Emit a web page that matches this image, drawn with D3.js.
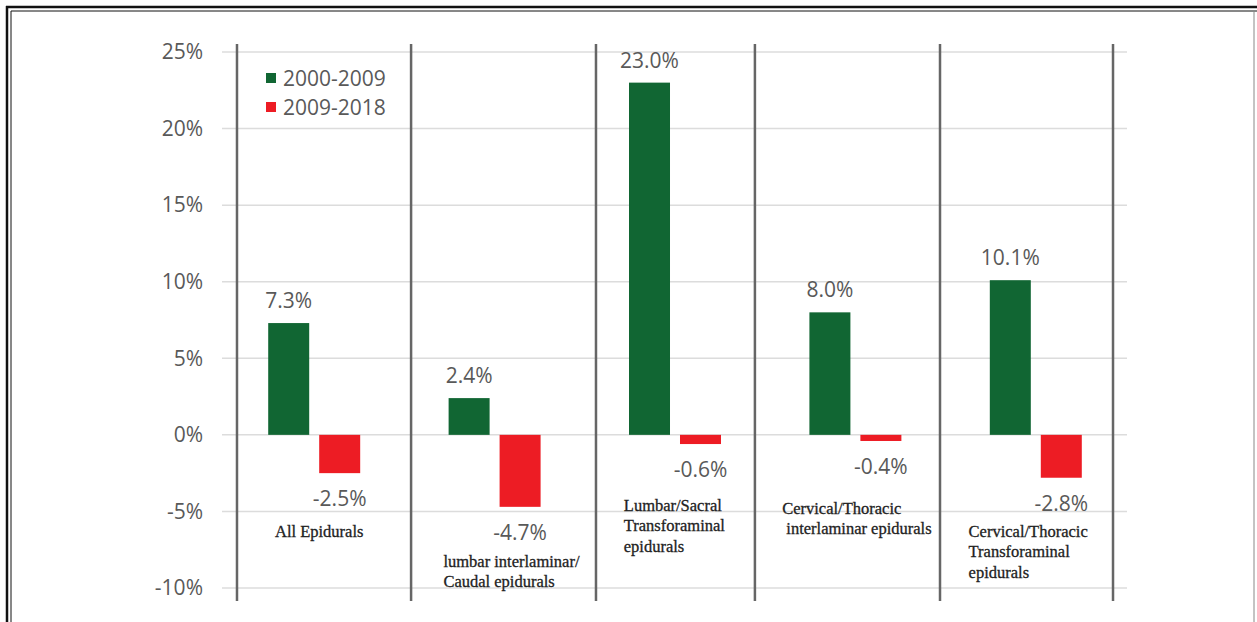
<!DOCTYPE html>
<html>
<head>
<meta charset="utf-8">
<script src="https://cdn.jsdelivr.net/npm/d3@7/dist/d3.min.js"></script>
<style>
  html, body { margin: 0; padding: 0; background: #fff; }
  svg { display: block; }
</style>
</head>
<body>
<svg id="chart" width="1257" height="622"></svg>
<script>
// ---------- data ----------
const categories = [
  "All Epidurals",
  "lumbar interlaminar/ Caudal epidurals",
  "Lumbar/Sacral Transforaminal epidurals",
  "Cervical/Thoracic interlaminar epidurals",
  "Cervical/Thoracic Transforaminal epidurals"
];
const categoryLines = [
  ["All Epidurals"],
  ["lumbar interlaminar/", "Caudal epidurals"],
  ["Lumbar/Sacral", "Transforaminal", "epidurals"],
  ["Cervical/Thoracic", " interlaminar epidurals"],
  ["Cervical/Thoracic", "Transforaminal", "epidurals"]
];
const seriesNames = ["2000-2009", "2009-2018"];
const values2000_2009 = [7.3, 2.4, 23.0, 8.0, 10.1];
const values2009_2018 = [-2.5, -4.7, -0.6, -0.4, -2.8];
const yTicks = [-10, -5, 0, 5, 10, 15, 20, 25];

// ---------- layout ----------
const W = 1257, H = 622;
const plot = { left: 224, right: 1126, top: 52, bottom: 588 };
const colors = ["#116633", "#ed1c24"];
const textGray = "#595959";
const sansFont = "'Open Sans', 'Liberation Sans', sans-serif";
const serifFont = "'Liberation Serif', 'Times New Roman', serif";
// label box anchors: x offset inside band (px), first line y in data units
const catLabelLayout = [
  { dx: 51, y: -6.3, indent: [0] },
  { dx: 39, y: -8.25, indent: [0, 0] },
  { dx: 39, y: -4.6, indent: [0, 0, 0] },
  { dx: 17, y: -4.8, indent: [0, 0] },
  { dx: 23, y: -6.3, indent: [0, 0, 0] }
];
// separator lines in category-index units (hand placed in the original)
const separatorsIdx = [0.072, 1.037, 2.062, 2.943, 3.969, 4.928];

const svg = d3.select("#chart");

// frame
svg.append("rect").attr("x", 0).attr("y", 0).attr("width", W).attr("height", H).attr("fill", "#fff");
svg.append("line").attr("x1", 6).attr("x2", W).attr("y1", 7).attr("y2", 7).attr("stroke", "#111").attr("stroke-width", 2.5);
svg.append("line").attr("x1", 11).attr("x2", W).attr("y1", 11).attr("y2", 11).attr("stroke", "#111").attr("stroke-width", 1);
svg.append("line").attr("x1", 7).attr("x2", 7).attr("y1", 6).attr("y2", H).attr("stroke", "#111").attr("stroke-width", 2.5);
svg.append("line").attr("x1", 11).attr("x2", 11).attr("y1", 11).attr("y2", H).attr("stroke", "#111").attr("stroke-width", 1);
svg.append("line").attr("x1", 1254).attr("x2", 1254).attr("y1", 11).attr("y2", H).attr("stroke", "#888").attr("stroke-width", 1);

// scales
const x = d3.scaleBand().domain(categories).range([plot.left, plot.right]).paddingInner(0).paddingOuter(0);
const inner = d3.scaleBand().domain(seriesNames).range([0, x.bandwidth()]).paddingInner(0.196).paddingOuter(0.867);
const y = d3.scaleLinear().domain([-10, 25]).range([plot.bottom, plot.top]);
const idx = d3.scaleLinear().domain([0, categories.length]).range([plot.left, plot.right]);

// gridlines
svg.append("g").selectAll("line").data(yTicks).join("line")
  .attr("x1", plot.left - 2).attr("x2", plot.right + 1)
  .attr("y1", d => y(d)).attr("y2", d => y(d))
  .attr("stroke", "#dcdcdc").attr("stroke-width", 1.5);

// y axis labels
const yAxis = d3.axisLeft(y).tickValues(yTicks).tickSize(0).tickPadding(0).tickFormat(d => d + "%");
const yg = svg.append("g").attr("transform", `translate(${203},0)`).call(yAxis);
yg.select(".domain").remove();
yg.selectAll("text").attr("font-family", sansFont)
  .attr("font-size", 21).attr("fill", textGray);

// separators
svg.append("g").selectAll("line").data(separatorsIdx).join("line")
  .attr("x1", d => idx(d)).attr("x2", d => idx(d))
  .attr("y1", 44).attr("y2", 601)
  .attr("stroke", "#666").attr("stroke-width", 2.5);

// bars
const rows = categories.map((c, i) => ({ c, i, vals: [values2000_2009[i], values2009_2018[i]] }));
const groups = svg.append("g").selectAll("g").data(rows).join("g")
  .attr("transform", d => `translate(${x(d.c)},0)`);

groups.selectAll("rect").data(d => d.vals.map((v, k) => ({ v, k, s: seriesNames[k] }))).join("rect")
  .attr("x", d => inner(d.s))
  .attr("width", inner.bandwidth())
  .attr("y", d => y(Math.max(0, d.v)))
  .attr("height", d => Math.abs(y(d.v) - y(0)))
  .attr("fill", d => colors[d.k]);

// value labels
groups.selectAll("text.val").data(d => d.vals.map((v, k) => ({ v, k, s: seriesNames[k] }))).join("text")
  .attr("class", "val")
  .attr("x", d => inner(d.s) + inner.bandwidth() / 2)
  .attr("y", d => d.v >= 0 ? y(d.v) - 23 : y(d.v) + 25)
  .attr("text-anchor", "middle")
  .attr("dominant-baseline", "central")
  .attr("font-family", sansFont)
  .attr("font-size", 21)
  .attr("fill", textGray)
  .text(d => d.v.toFixed(1) + "%");

// category labels
groups.each(function (d) {
  const lay = catLabelLayout[d.i];
  const t = d3.select(this).append("text")
    .attr("font-family", serifFont)
    .attr("font-size", 16.5)
    .attr("fill", "#222")
    .attr("stroke", "#222").attr("stroke-width", 0.3)
    .attr("xml:space", "preserve")
    .style("white-space", "pre");
  categoryLines[d.i].forEach((line, j) => {
    t.append("tspan")
      .attr("x", lay.dx + (lay.indent[j] || 0))
      .attr("y", y(lay.y) + j * 20.5)
      .attr("dominant-baseline", "central")
      .text(line);
  });
});

// legend
const lg = svg.append("g").attr("transform", "translate(266,78)");
seriesNames.forEach((s, k) => {
  lg.append("rect").attr("x", 0).attr("y", k * 29 - 5).attr("width", 10).attr("height", 10).attr("fill", colors[k]);
  lg.append("text").attr("x", 17).attr("y", k * 29).attr("dominant-baseline", "central")
    .attr("font-family", sansFont)
    .attr("font-size", 21).attr("fill", textGray).text(s);
});
</script>
</body>
</html>
